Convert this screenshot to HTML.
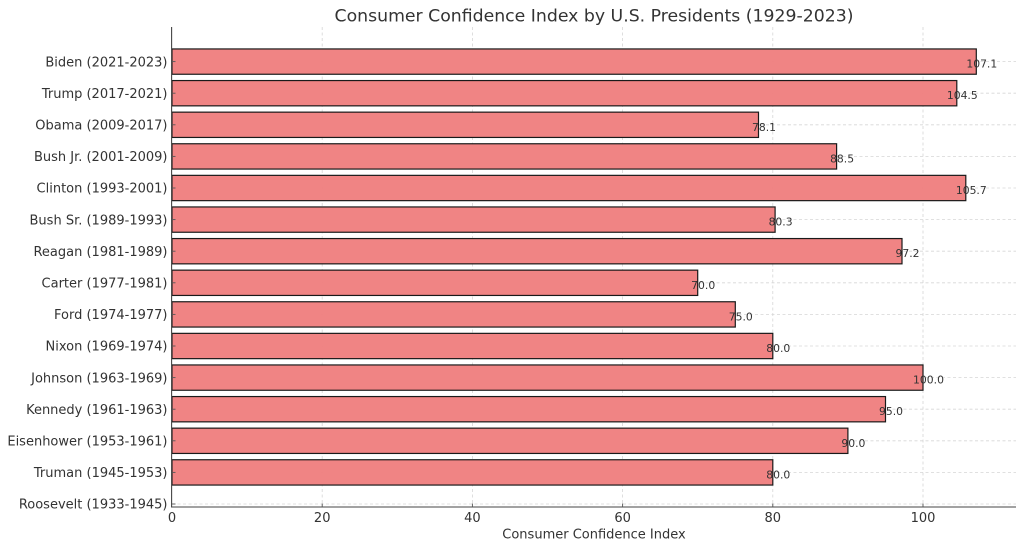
<!DOCTYPE html>
<html><head><meta charset="utf-8"><style>
html,body{margin:0;padding:0;background:#fff;}
svg{display:block;}
text{font-family:"DejaVu Sans","Liberation Sans",sans-serif;fill:#333;}
</style></head><body>
<svg width="1024" height="549" viewBox="0 0 1024 549" xmlns="http://www.w3.org/2000/svg">
<rect width="1024" height="549" fill="#fff"/>
<text x="594" y="21.5" font-size="17.3" text-anchor="middle">Consumer Confidence Index by U.S. Presidents (1929-2023)</text>
<!-- grid -->
<g stroke="#d6d6d6" stroke-width="0.8" stroke-dasharray="3,2.5">
<line x1="322.2" y1="27" x2="322.2" y2="507"/>
<line x1="472.4" y1="27" x2="472.4" y2="507"/>
<line x1="622.6" y1="27" x2="622.6" y2="507"/>
<line x1="772.8" y1="27" x2="772.8" y2="507"/>
<line x1="923" y1="27" x2="923" y2="507"/>
<line x1="172" y1="61.6" x2="1016" y2="61.6"/>
<line x1="172" y1="93.2" x2="1016" y2="93.2"/>
<line x1="172" y1="124.8" x2="1016" y2="124.8"/>
<line x1="172" y1="156.4" x2="1016" y2="156.4"/>
<line x1="172" y1="188" x2="1016" y2="188"/>
<line x1="172" y1="219.6" x2="1016" y2="219.6"/>
<line x1="172" y1="251.2" x2="1016" y2="251.2"/>
<line x1="172" y1="282.8" x2="1016" y2="282.8"/>
<line x1="172" y1="314.4" x2="1016" y2="314.4"/>
<line x1="172" y1="346" x2="1016" y2="346"/>
<line x1="172" y1="377.6" x2="1016" y2="377.6"/>
<line x1="172" y1="409.2" x2="1016" y2="409.2"/>
<line x1="172" y1="440.8" x2="1016" y2="440.8"/>
<line x1="172" y1="472.4" x2="1016" y2="472.4"/>
<line x1="172" y1="504" x2="1016" y2="504"/>
</g>
<!-- bars -->
<g fill="#f08080" fill-opacity="0.97" stroke="#1a1a1a" stroke-width="1.2">
<rect x="172" y="48.95" width="804.3" height="25.3"/>
<rect x="172" y="80.55" width="784.8" height="25.3"/>
<rect x="172" y="112.15" width="586.5" height="25.3"/>
<rect x="172" y="143.75" width="664.6" height="25.3"/>
<rect x="172" y="175.35" width="793.8" height="25.3"/>
<rect x="172" y="206.95" width="603.1" height="25.3"/>
<rect x="172" y="238.55" width="730" height="25.3"/>
<rect x="172" y="270.15" width="525.7" height="25.3"/>
<rect x="172" y="301.75" width="563.3" height="25.3"/>
<rect x="172" y="333.35" width="600.8" height="25.3"/>
<rect x="172" y="364.95" width="751" height="25.3"/>
<rect x="172" y="396.55" width="713.5" height="25.3"/>
<rect x="172" y="428.15" width="675.9" height="25.3"/>
<rect x="172" y="459.75" width="600.8" height="25.3"/>
</g>
<!-- value labels -->
<g font-size="10.8" text-anchor="middle">
<text x="981.8" y="67.6">107.1</text>
<text x="962.3" y="99.2">104.5</text>
<text x="764" y="130.8">78.1</text>
<text x="842.1" y="162.4">88.5</text>
<text x="971.3" y="194">105.7</text>
<text x="780.6" y="225.6">80.3</text>
<text x="907.5" y="257.2">97.2</text>
<text x="703.2" y="288.8">70.0</text>
<text x="740.8" y="320.4">75.0</text>
<text x="778.3" y="352">80.0</text>
<text x="928.5" y="383.6">100.0</text>
<text x="891" y="415.2">95.0</text>
<text x="853.4" y="446.8">90.0</text>
<text x="778.3" y="478.4">80.0</text>
</g>
<!-- spines -->
<g stroke="#444" stroke-width="1.1">
<line x1="171.6" y1="27" x2="171.6" y2="507.5"/>
<line x1="171" y1="507" x2="1016" y2="507"/>
</g>
<!-- ticks -->
<g stroke="#555" stroke-width="0.9">
<line x1="172" y1="61.6" x2="175.5" y2="61.6"/>
<line x1="172" y1="93.2" x2="175.5" y2="93.2"/>
<line x1="172" y1="124.8" x2="175.5" y2="124.8"/>
<line x1="172" y1="156.4" x2="175.5" y2="156.4"/>
<line x1="172" y1="188" x2="175.5" y2="188"/>
<line x1="172" y1="219.6" x2="175.5" y2="219.6"/>
<line x1="172" y1="251.2" x2="175.5" y2="251.2"/>
<line x1="172" y1="282.8" x2="175.5" y2="282.8"/>
<line x1="172" y1="314.4" x2="175.5" y2="314.4"/>
<line x1="172" y1="346" x2="175.5" y2="346"/>
<line x1="172" y1="377.6" x2="175.5" y2="377.6"/>
<line x1="172" y1="409.2" x2="175.5" y2="409.2"/>
<line x1="172" y1="440.8" x2="175.5" y2="440.8"/>
<line x1="172" y1="472.4" x2="175.5" y2="472.4"/>
<line x1="172" y1="504" x2="175.5" y2="504"/>
<line x1="322.2" y1="507" x2="322.2" y2="503.5"/>
<line x1="472.4" y1="507" x2="472.4" y2="503.5"/>
<line x1="622.6" y1="507" x2="622.6" y2="503.5"/>
<line x1="772.8" y1="507" x2="772.8" y2="503.5"/>
<line x1="923" y1="507" x2="923" y2="503.5"/>
</g>
<!-- y tick labels -->
<g font-size="13" text-anchor="end">
<text x="167.5" y="66.3">Biden (2021-2023)</text>
<text x="167.5" y="97.9">Trump (2017-2021)</text>
<text x="167.5" y="129.5">Obama (2009-2017)</text>
<text x="167.5" y="161.1">Bush Jr. (2001-2009)</text>
<text x="167.5" y="192.7">Clinton (1993-2001)</text>
<text x="167.5" y="224.3">Bush Sr. (1989-1993)</text>
<text x="167.5" y="255.9">Reagan (1981-1989)</text>
<text x="167.5" y="287.5">Carter (1977-1981)</text>
<text x="167.5" y="319.1">Ford (1974-1977)</text>
<text x="167.5" y="350.7">Nixon (1969-1974)</text>
<text x="167.5" y="382.3">Johnson (1963-1969)</text>
<text x="167.5" y="413.9">Kennedy (1961-1963)</text>
<text x="167.5" y="445.5">Eisenhower (1953-1961)</text>
<text x="167.5" y="477.1">Truman (1945-1953)</text>
<text x="167.5" y="508.7">Roosevelt (1933-1945)</text>
</g>
<!-- x tick labels -->
<g font-size="13" text-anchor="middle">
<text x="172" y="522">0</text>
<text x="322.2" y="522">20</text>
<text x="472.4" y="522">40</text>
<text x="622.6" y="522">60</text>
<text x="772.8" y="522">80</text>
<text x="923" y="522">100</text>
</g>
<text x="594" y="538.5" font-size="13" text-anchor="middle">Consumer Confidence Index</text>
</svg>
</body></html>
